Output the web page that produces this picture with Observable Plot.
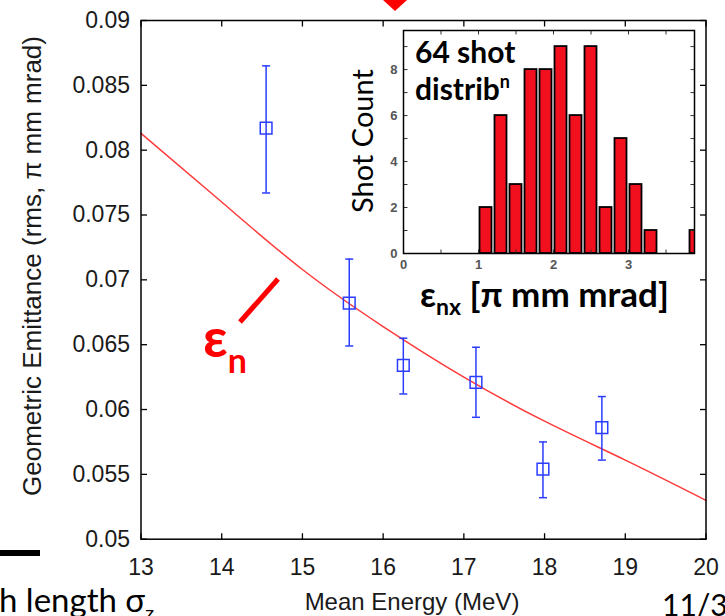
<!DOCTYPE html>
<html><head><meta charset="utf-8">
<script src="https://cdn.jsdelivr.net/npm/d3@7"></script>
<script src="https://cdn.jsdelivr.net/npm/@observablehq/plot@0.6"></script>
<style>
html,body{margin:0;padding:0;background:#fff;}
#wrap{position:relative;width:725px;height:616px;overflow:hidden;background:#fff;}
#wrap svg{position:absolute;}
</style></head><body><div id="wrap"></div>
<script>
// ---- main plot data ----
const energy   = [14.55, 15.58, 16.25, 17.15, 17.98, 18.71];
const emit     = [0.0817, 0.0682, 0.0634, 0.0621, 0.0554, 0.0586];
const emitLo   = [0.0767, 0.0649, 0.0612, 0.0594, 0.0532, 0.0561];
const emitHi   = [0.0865, 0.0716, 0.0655, 0.0648, 0.0575, 0.0610];
const fitE     = [13, 14, 15, 16, 17, 18, 19, 20];
const fitEmit  = [0.0813, 0.0760, 0.0708, 0.0664, 0.0625, 0.0591, 0.0561, 0.0530];
const xTicks   = [13, 14, 15, 16, 17, 18, 19, 20];
const yTicks   = [0.05, 0.055, 0.06, 0.065, 0.07, 0.075, 0.08, 0.085, 0.09];
// ---- inset histogram data ----
const binCenters = [1.1, 1.3, 1.5, 1.7, 1.9, 2.1, 2.3, 2.5, 2.7, 2.9, 3.1, 3.3, 3.9];
const shotCounts = [2, 6, 3, 8, 8, 9, 6, 9, 2, 5, 3, 1, 1];
const insetXTicks = [0, 0.5, 1, 1.5, 2, 2.5, 3, 3.5];
const insetXLabels = [0, 1, 2, 3];
const insetYTicks = [0, 1, 2, 3, 4, 5, 6, 7, 8, 9];
const insetYLabels = [0, 2, 4, 6, 8];

const blue = "#2a3cff", red = "#ff3a3a", barRed = "#f2101e";
const tickIn = (dx, dy) => ({draw(ctx){ ctx.moveTo(0,0); ctx.lineTo(dx,dy); }});
const cap = {draw(ctx){ ctx.moveTo(-4,0); ctx.lineTo(4,0); }};

const pts = energy.map((e,i)=>({e, v: emit[i], lo: emitLo[i], hi: emitHi[i]}));
const fit = fitE.map((e,i)=>({e, v: fitEmit[i]}));
const hist = binCenters.map((c,i)=>({c, n: shotCounts[i]}));

const wrap = document.getElementById("wrap");

const main = Plot.plot({
  width: 725, height: 616,
  marginLeft: 140.5, marginRight: 19.5, marginTop: 20, marginBottom: 77.3,
  style: {fontFamily: "'Liberation Sans', Arial, sans-serif", background: "transparent", overflow: "visible"},
  x: {domain: [13, 20]},
  y: {domain: [0.05, 0.09]},
  marks: [
    Plot.line(fit, {x: "e", y: "v", stroke: red, strokeWidth: 1.5, curve: "natural"}),
    Plot.ruleX(pts, {x: "e", y1: "lo", y2: "hi", stroke: blue, strokeWidth: 1.5}),
    Plot.dot(pts, {x: "e", y: "lo", symbol: cap, stroke: blue, strokeWidth: 1.5}),
    Plot.dot(pts, {x: "e", y: "hi", symbol: cap, stroke: blue, strokeWidth: 1.5}),
    Plot.dot(pts, {x: "e", y: "v", symbol: "square", r: 6.6, stroke: blue, fill: "none", strokeWidth: 1.5}),
    Plot.dot(yTicks, {y: d=>d, frameAnchor: "left", symbol: tickIn(6,0), stroke: "black", strokeWidth: 1.3}),
    Plot.dot(yTicks, {y: d=>d, frameAnchor: "right", symbol: tickIn(-6,0), stroke: "black", strokeWidth: 1.3}),
    Plot.dot(xTicks, {x: d=>d, frameAnchor: "bottom", symbol: tickIn(0,-6), stroke: "black", strokeWidth: 1.3}),
    Plot.dot(xTicks, {x: d=>d, frameAnchor: "top", symbol: tickIn(0,6), stroke: "black", strokeWidth: 1.3}),
    Plot.axisY({ticks: yTicks, tickSize: 0, tickPadding: 11, fontSize: 23, fill: "#1a1a1a", label: null,
                tickFormat: d => String(Math.round(d*1000)/1000)}),
    Plot.axisX({ticks: xTicks, tickSize: 0, tickPadding: 19, fontSize: 23, fill: "#1a1a1a", label: null,
                tickFormat: d => String(d)}),
    Plot.frame({stroke: "black", strokeWidth: 1.5})
  ]
});
main.style.left = "0px"; main.style.top = "0px";
wrap.appendChild(main);

const inset = Plot.plot({
  width: 349, height: 299,
  marginLeft: 50, marginRight: 8, marginTop: 6, marginBottom: 70,
  style: {fontFamily: "'Liberation Sans', Arial, sans-serif", background: "transparent", overflow: "visible"},
  x: {domain: [0, 3.88]},
  y: {domain: [0, 9.7]},
  marks: [
    Plot.rectY(hist, {x: "c", interval: 0.2, y: "n", fill: barRed, stroke: "black", strokeWidth: 1.8,
                      insetLeft: 1.5, insetRight: 1.5, clip: true}),
    Plot.dot(insetYTicks, {y: d=>d, frameAnchor: "left", symbol: tickIn(4,0), stroke: "#333", strokeWidth: 1}),
    Plot.dot(insetYTicks, {y: d=>d, frameAnchor: "right", symbol: tickIn(-4,0), stroke: "#333", strokeWidth: 1}),
    Plot.dot(insetXTicks, {x: d=>d, frameAnchor: "bottom", symbol: tickIn(0,-4), stroke: "#333", strokeWidth: 1}),
    Plot.dot(insetXTicks, {x: d=>d, frameAnchor: "top", symbol: tickIn(0,4), stroke: "#333", strokeWidth: 1}),
    Plot.axisY({ticks: insetYLabels, tickSize: 0, tickPadding: 6, fontSize: 13, fontWeight: "bold", fill: "#555", label: null,
                tickFormat: d => String(d)}),
    Plot.axisX({ticks: insetXLabels, tickSize: 0, tickPadding: 6, fontSize: 13, fontWeight: "bold", fill: "#555", label: null,
                tickFormat: d => String(d)}),
    Plot.frame({stroke: "black", strokeWidth: 1.5})
  ]
});
inset.style.left = (403 - 50) + "px"; inset.style.top = (30 - 6) + "px";
wrap.appendChild(inset);

// ---- annotations / slide decorations ----
const svg = d3.select(main);
const slideFont = "Lato, 'Open Sans', sans-serif";
// y title
svg.append("text").attr("transform", "translate(41,266) rotate(-90)")
  .attr("text-anchor", "middle").attr("font-size", 26).attr("fill", "#1a1a1a")
  .attr("font-family", "'Liberation Sans', Arial, sans-serif")
  .text("Geometric Emittance (rms, \u03c0 mm mrad)");
// x title
svg.append("text").attr("x", 412).attr("y", 610)
  .attr("text-anchor", "middle").attr("font-size", 24).attr("fill", "#1a1a1a")
  .attr("font-family", "'Liberation Sans', Arial, sans-serif")
  .text("Mean Energy (MeV)");
// red arrow tip at top
svg.append("polygon").attr("points", "383,0 407,0 395,11").attr("fill", "#ff0000");
// epsilon_n annotation
svg.append("line").attr("x1", 240).attr("y1", 322).attr("x2", 278).attr("y2", 279)
  .attr("stroke", "#ff0000").attr("stroke-width", 5);
const en = svg.append("text").attr("x", 203).attr("y", 357).attr("fill", "#ff0000")
  .attr("text-anchor", "start")
  .attr("font-family", slideFont).attr("font-weight", "bold").attr("font-size", 54);
en.append("tspan").text("\u03b5");
en.append("tspan").attr("font-size", 34).attr("dy", 16).text("n");
// bottom-left slide remnants
svg.append("rect").attr("x", 0).attr("y", 550).attr("width", 40).attr("height", 6).attr("fill", "#000");
const bl = svg.append("text").attr("x", -1).attr("y", 612).attr("fill", "#000")
  .attr("text-anchor", "start")
  .attr("font-family", slideFont).attr("font-size", 33);
bl.append("tspan").text("h length \u03c3");
bl.append("tspan").attr("font-size", 20).attr("dy", 8).text("z");
svg.append("text").attr("x", 662).attr("y", 616).attr("fill", "#000")
  .attr("text-anchor", "start")
  .attr("font-family", slideFont).attr("font-size", 30).text("11/3");

// inset texts
const si = d3.select(inset);
const ox = 403 - 50, oy = 30 - 6;
si.append("text").attr("transform", `translate(${373-ox},${141-oy}) rotate(-90)`)
  .attr("text-anchor", "middle").attr("font-size", 29).attr("fill", "#000")
  .attr("font-family", slideFont).text("Shot Count");
si.append("text").attr("x", 415-ox).attr("y", 63-oy).attr("font-size", 30).attr("font-weight", "bold")
  .attr("text-anchor", "start")
  .attr("font-family", slideFont).attr("fill", "#000").text("64 shot");
const di = si.append("text").attr("x", 415-ox).attr("y", 100-oy).attr("font-size", 30).attr("font-weight", "bold")
  .attr("text-anchor", "start")
  .attr("font-family", slideFont).attr("fill", "#000");
di.append("tspan").text("distrib");
di.append("tspan").attr("font-size", 18).attr("dy", -12).text("n");
const lab = si.append("text").attr("x", 420-ox).attr("y", 307-oy).attr("font-size", 35).attr("font-weight", "bold")
  .attr("text-anchor", "start")
  .attr("font-family", slideFont).attr("fill", "#000");
lab.append("tspan").text("\u03b5");
lab.append("tspan").attr("font-size", 23).attr("dy", 8).text("nx");
lab.append("tspan").attr("dy", -8).text(" [\u03c0 mm mrad]");
</script></body></html>
